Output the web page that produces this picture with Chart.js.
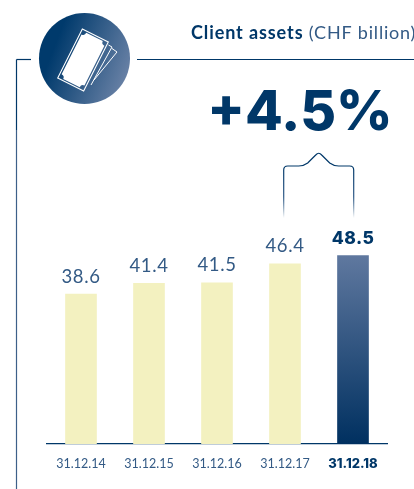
<!DOCTYPE html>
<html><head><meta charset="utf-8">
<style>html,body{margin:0;padding:0;background:#fff;overflow:hidden}#w{position:relative;width:414px;height:489px}canvas{display:block}</style>
<script src="https://cdn.jsdelivr.net/npm/chart.js@4"></script>
</head><body><div id="w"><canvas id="c" width="414" height="489"></canvas></div>
<script>
const categories=["31.12.14","31.12.15","31.12.16","31.12.17","31.12.18"];
const clientAssets=[38.6,41.4,41.5,46.4,48.5];
const valueLabels=["38.6","41.4","41.5","46.4","48.5"];
const titleBold="Client assets";
const titleLight=" (CHF billion)";
const growthLabel="+4.5%";
const NAVY="#003768",SOFT="#335a85",YEL="#f3f1c0";
const FONT="Lato, sans-serif",HEAVY="Inter, sans-serif";
const lastIdx=categories.length-1;

function line(ctx,pts,w,color){ctx.beginPath();pts.forEach((p,i)=>i?ctx.lineTo(p[0],p[1]):ctx.moveTo(p[0],p[1]));ctx.lineWidth=w;ctx.strokeStyle=color;ctx.stroke();}

function noteShape(ctx,w,h,n){
  const x=w/2,y=h/2;ctx.beginPath();
  ctx.moveTo(-x+n,-y);ctx.lineTo(x-n,-y);ctx.quadraticCurveTo(x-n,-y+n,x,-y+n);
  ctx.lineTo(x,y-n);ctx.quadraticCurveTo(x-n,y-n,x-n,y);
  ctx.lineTo(-x+n,y);ctx.quadraticCurveTo(-x+n,y-n,-x,y-n);
  ctx.lineTo(-x,-y+n);ctx.quadraticCurveTo(-x+n,-y+n,-x+n,-y);ctx.closePath();
}

const decor={id:"decor",afterDatasetsDraw(chart){
  const ctx=chart.ctx;ctx.save();
  line(ctx,[[16.5,130],[16.5,489]],1.2,"#3d6089");
  line(ctx,[[16.5,59.5],[31,59.5]],1.2,NAVY);
  line(ctx,[[16.5,59.5],[16.5,130]],1.2,NAVY);
  line(ctx,[[137,59.5],[414,59.5]],1.2,NAVY);
  let g=ctx.createLinearGradient(55,45,132,75);g.addColorStop(0,"#003a6c");g.addColorStop(1,"#6d84a8");
  ctx.beginPath();ctx.arc(84.5,58.5,45.5,0,Math.PI*2);ctx.fillStyle=g;ctx.fill();
  line(ctx,[[108.5,45],[112,47],[91,85]],1,"#fff");
  line(ctx,[[112,48.5],[117,52],[94,80]],1,"#fff");
  ctx.save();ctx.translate(83,60);ctx.rotate(26.6*Math.PI/180);
  ctx.strokeStyle="#fff";ctx.lineWidth=1.1;ctx.strokeRect(-14.5,-27.5,29,55);
  noteShape(ctx,25.5,51.5,3.5);ctx.fillStyle="#fff";ctx.fill();
  ctx.restore();
  ctx.textBaseline="alphabetic";ctx.textAlign="left";
  ctx.font="bold 18px "+FONT;ctx.letterSpacing="0.9px";ctx.fillStyle=NAVY;ctx.fillText(titleBold,191,39);
  const tw=ctx.measureText(titleBold).width;
  ctx.font="18px "+FONT;ctx.letterSpacing="0.8px";ctx.fillStyle=SOFT;ctx.fillText(titleLight,191+tw,39);
  ctx.letterSpacing="0px";
  ctx.font="800 55px "+HEAVY;ctx.fillStyle=NAVY;ctx.textAlign="center";ctx.fillText(growthLabel,300,130);
  const L=283.7,R=353.7,M=(L+R)/2;
  let fade=ctx.createLinearGradient(0,165,0,218);fade.addColorStop(0,NAVY);fade.addColorStop(.6,"#2f5a88");fade.addColorStop(1,"rgba(0,55,104,0)");
  ctx.beginPath();ctx.moveTo(L,218);ctx.lineTo(L,170);ctx.quadraticCurveTo(L,166,L+4,166);ctx.lineTo(M-20,166);
  ctx.quadraticCurveTo(M-15,166,M-11,163);ctx.lineTo(M-3,155);ctx.quadraticCurveTo(M,151.5,M+3,155);ctx.lineTo(M+11,163);
  ctx.quadraticCurveTo(M+15,166,M+20,166);ctx.lineTo(R-4,166);ctx.quadraticCurveTo(R,166,R,170);ctx.lineTo(R,218);
  ctx.lineWidth=1.2;ctx.strokeStyle=fade;ctx.stroke();
  const bars=chart.getDatasetMeta(0).data;
  bars.forEach((b,i)=>{const last=i===lastIdx;
    ctx.font=last?"800 17.5px "+HEAVY:"400 18.5px "+FONT;ctx.fillStyle=last?NAVY:SOFT;
    ctx.textAlign="center";ctx.letterSpacing=last?"0.4px":"0.6px";ctx.fillText(valueLabels[i],b.x,b.y-(last?11.5:11.5));});
  ctx.restore();
}};

new Chart(document.getElementById("c"),{
  type:"bar",
  data:{labels:categories,datasets:[{data:clientAssets,barThickness:31,borderWidth:0,
    backgroundColor(c){
      if(c.dataIndex!==lastIdx)return YEL;
      const a=c.chart.chartArea;if(!a)return NAVY;
      const y=c.chart.scales.y;
      const g=c.chart.ctx.createLinearGradient(0,y.getPixelForValue(clientAssets[lastIdx]),0,y.getPixelForValue(0));
      g.addColorStop(0,"#5f789f");g.addColorStop(1,"#003060");return g;
    }}]},
  options:{responsive:false,animation:false,
    layout:{padding:{top:211,left:47,right:27,bottom:0}},
    plugins:{legend:{display:false},tooltip:{enabled:false}},
    scales:{
      y:{display:false,min:0,max:60},
      x:{afterFit(s){s.height=45},
        grid:{display:false,drawTicks:false},
        border:{display:true,color:NAVY,width:1.3},
        ticks:{autoSkip:false,maxRotation:0,padding:12,
          color:c=>c.index===lastIdx?NAVY:SOFT,
          font:c=>c.index===lastIdx?{family:HEAVY,size:13,weight:"800"}:{family:FONT,size:12.5,weight:"400"}}}
    }},
  plugins:[decor]
});
</script></body></html>
